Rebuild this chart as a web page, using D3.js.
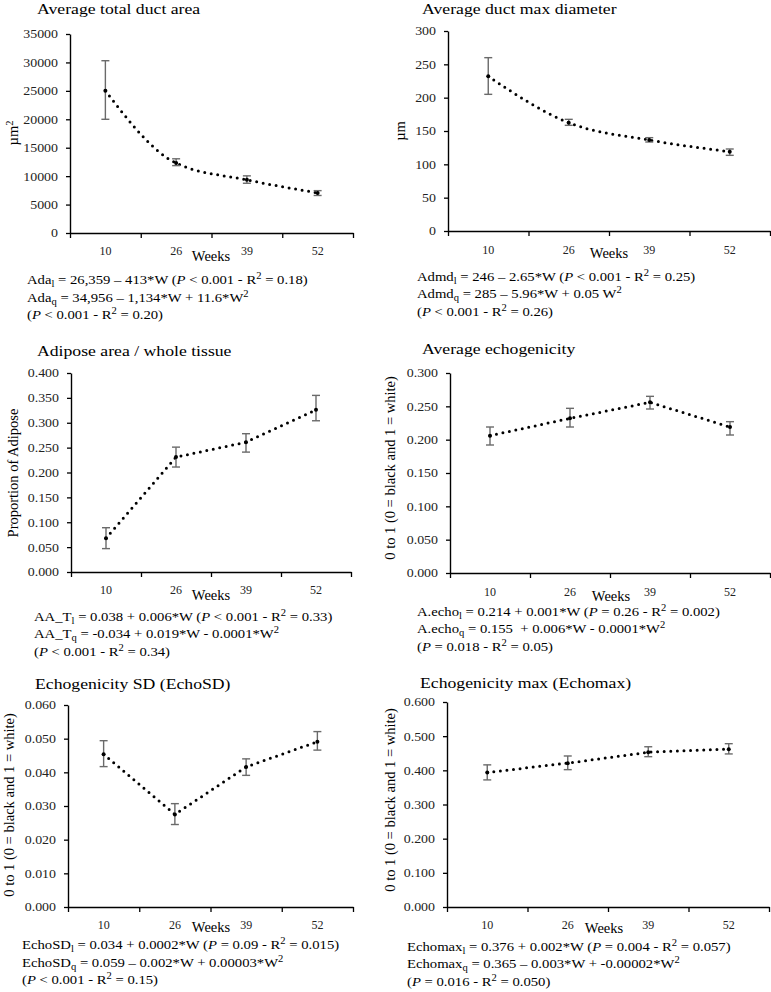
<!DOCTYPE html>
<html><head><meta charset="utf-8">
<script src="https://cdn.jsdelivr.net/npm/d3@7/dist/d3.min.js"></script>
<style>
html,body{margin:0;padding:0;background:#fff;}
</style></head>
<body>
<svg id="chart" width="771" height="992" font-family="Liberation Serif"></svg>
<script>
// ---------- DATA ----------
const weeks = ["10", "26", "39", "52"];

const ductAreaMean = [25000, 12300, 9350, 7050];
const ductAreaLow  = [20000, 11850, 8750, 6600];
const ductAreaHigh = [30300, 13050, 10050, 7450];
const ductAreaTicks = [0, 5000, 10000, 15000, 20000, 25000, 30000, 35000];

const ductDiamMean = [232, 162.5, 136.5, 119];
const ductDiamLow  = [205, 158.5, 133.5, 113.5];
const ductDiamHigh = [260, 167.5, 140, 123];
const ductDiamTicks = [0, 50, 100, 150, 200, 250, 300];

const adiposeMean = [0.068, 0.231, 0.261, 0.326];
const adiposeLow  = [0.047, 0.211, 0.241, 0.304];
const adiposeHigh = [0.089, 0.251, 0.278, 0.355];
const adiposeTicks = [0, 0.05, 0.1, 0.15, 0.2, 0.25, 0.3, 0.35, 0.4];

const echoMean = [0.206, 0.232, 0.256, 0.219];
const echoLow  = [0.192, 0.219, 0.246, 0.207];
const echoHigh = [0.219, 0.247, 0.265, 0.227];
const echoTicks = [0, 0.05, 0.1, 0.15, 0.2, 0.25, 0.3];

const echoSDMean = [0.0454, 0.0275, 0.0416, 0.0491];
const echoSDLow  = [0.0417, 0.0245, 0.0391, 0.0466];
const echoSDHigh = [0.0494, 0.0307, 0.0440, 0.0521];
const echoSDTicks = [0, 0.01, 0.02, 0.03, 0.04, 0.05, 0.06];

const echoMaxMean = [0.394, 0.421, 0.453, 0.462];
const echoMaxLow  = [0.372, 0.402, 0.440, 0.448];
const echoMaxHigh = [0.416, 0.442, 0.469, 0.478];
const echoMaxTicks = [0, 0.1, 0.2, 0.3, 0.4, 0.5, 0.6];

const titles = ["Average total duct area", "Average duct max diameter",
  "Adipose area / whole tissue", "Average echogenicity",
  "Echogenicity SD (EchoSD)", "Echogenicity max (Echomax)"];
const yLabels = ["µm{sup:2}", "µm", "Proportion of Adipose",
  "0 to 1 (0 = black and 1 = white)", "0 to 1 (0 = black and 1 = white)",
  "0 to 1 (0 = black and 1 = white)"];
const xLabel = "Weeks";
const equations = [
  ["Ada{sub:l} = 26,359 – 413*W ({i:P} < 0.001 - R{sup:2} = 0.18)",
   "Ada{sub:q} = 34,956 – 1,134*W + 11.6*W{sup:2}",
   "({i:P} < 0.001 - R{sup:2} = 0.20)"],
  ["Admd{sub:l} = 246 – 2.65*W ({i:P} < 0.001 - R{sup:2} = 0.25)",
   "Admd{sub:q} = 285 – 5.96*W + 0.05 W{sup:2}",
   "({i:P} < 0.001 - R{sup:2} = 0.26)"],
  ["AA_T{sub:l} = 0.038 + 0.006*W ({i:P} < 0.001 - R{sup:2} = 0.33)",
   "AA_T{sub:q} = -0.034 + 0.019*W - 0.0001*W{sup:2}",
   "({i:P} < 0.001 - R{sup:2} = 0.34)"],
  ["A.echo{sub:l} = 0.214 + 0.001*W ({i:P} = 0.26 - R{sup:2} = 0.002)",
   "A.echo{sub:q} = 0.155  + 0.006*W - 0.0001*W{sup:2}",
   "({i:P} = 0.018 - R{sup:2} = 0.05)"],
  ["EchoSD{sub:l} = 0.034 + 0.0002*W ({i:P} = 0.09 - R{sup:2} = 0.015)",
   "EchoSD{sub:q} = 0.059 – 0.002*W + 0.00003*W{sup:2}",
   "({i:P} < 0.001 - R{sup:2} = 0.15)"],
  ["Echomax{sub:l} = 0.376 + 0.002*W ({i:P} = 0.004 - R{sup:2} = 0.057)",
   "Echomax{sub:q} = 0.365 – 0.003*W + -0.00002*W{sup:2}",
   "({i:P} = 0.016 - R{sup:2} = 0.050)"]
];

// ---------- LAYOUT ----------
const FONT = "Liberation Serif";
const panels = [
  {mean: ductAreaMean, low: ductAreaLow, high: ductAreaHigh, ticks: ductAreaTicks, fmt: "d", smooth: true,
   x0: 70, x1: 353, yTop: 34, yBot: 233, titleX: 37, titleY: 14, ylx: 13, yly: 133,
   xtY: 255, wx: 211, wy: 261, eqX: 27, eqY: [284, 302, 319]},
  {mean: ductDiamMean, low: ductDiamLow, high: ductDiamHigh, ticks: ductDiamTicks, fmt: "d", smooth: true,
   x0: 448, x1: 770, yTop: 31, yBot: 231, titleX: 422, titleY: 13.5, ylx: 400, yly: 131,
   xtY: 254, wx: 609, wy: 258, eqX: 417, eqY: [281, 298, 316]},
  {mean: adiposeMean, low: adiposeLow, high: adiposeHigh, ticks: adiposeTicks, fmt: ".3f", smooth: false,
   x0: 71, x1: 351, yTop: 373, yBot: 572, titleX: 37, titleY: 355.5, ylx: 13, yly: 473,
   xtY: 594, wx: 211, wy: 600, eqX: 34, eqY: [621, 638, 656]},
  {mean: echoMean, low: echoLow, high: echoHigh, ticks: echoTicks, fmt: ".3f", smooth: false,
   x0: 450, x1: 770, yTop: 373, yBot: 573, titleX: 422, titleY: 354, ylx: 390, yly: 468,
   xtY: 596, wx: 611, wy: 601, eqX: 417, eqY: [616, 633, 651]},
  {mean: echoSDMean, low: echoSDLow, high: echoSDHigh, ticks: echoSDTicks, fmt: ".3f", smooth: false,
   x0: 68, x1: 353, yTop: 705, yBot: 907, titleX: 35, titleY: 689, ylx: 9, yly: 805,
   xtY: 929, wx: 211, wy: 932, eqX: 22, eqY: [949, 967, 984]},
  {mean: echoMaxMean, low: echoMaxLow, high: echoMaxHigh, ticks: echoMaxTicks, fmt: ".3f", smooth: false,
   x0: 447, x1: 769, yTop: 702, yBot: 907, titleX: 420, titleY: 688, ylx: 390, yly: 800,
   xtY: 929, wx: 604, wy: 933, eqX: 407, eqY: [951, 968, 986]}
];

const svg = d3.select("#chart");

function rich(sel, str) {
  const parts = str.split(/(\{(?:i|sub|sup):[^}]*\})/).filter(s => s.length);
  let shift = 0;
  parts.forEach(p => {
    const m = p.match(/^\{(i|sub|sup):([^}]*)\}$/);
    const t = sel.append("tspan").attr("font-family", FONT);
    let target = 0;
    if (m) {
      t.text(m[2]);
      if (m[1] === "i") t.attr("font-style", "italic");
      if (m[1] === "sub") { target = 2.5; t.attr("font-size", "0.72em"); }
      if (m[1] === "sup") { target = -5; t.attr("font-size", "0.72em"); }
    } else t.text(p);
    if (target !== shift) { t.attr("dy", target - shift); shift = target; }
  });
}

function txt(g, x, y, str, size, sx, anchor, color) {
  const t = g.append("text")
    .attr("transform", `translate(${x},${y}) scale(${sx},1)`)
    .attr("font-family", FONT)
    .attr("font-size", size)
    .attr("xml:space", "preserve")
    .style("white-space", "pre")
    .attr("text-anchor", anchor || "start")
    .attr("fill", color || "#000");
  rich(t, str);
  return t;
}

panels.forEach((p, i) => {
  const g = svg.append("g");
  const yMax = p.ticks[p.ticks.length - 1];
  const y = d3.scaleLinear().domain([0, yMax]).range([p.yBot, p.yTop]);
  const xb = d3.scaleBand().domain(weeks).range([p.x0, p.x1]);
  const xl = d3.scaleLinear().domain([0, weeks.length]).range([p.x0, p.x1]);
  const cx = w => xb(w) + xb.bandwidth() / 2;
  const fmt = d3.format(p.fmt);

  // y axis
  const ya = g.append("g").attr("transform", `translate(${p.x0},0)`)
    .call(d3.axisLeft(y).tickValues(p.ticks).tickSize(4).tickSizeOuter(0).tickFormat(fmt));
  ya.attr("font-family", FONT);
  ya.select(".domain").attr("stroke", "#000").attr("stroke-width", 1.4);
  ya.selectAll(".tick line").attr("stroke", "#000").attr("stroke-width", 1.3);
  ya.selectAll(".tick text")
    .attr("x", 0).attr("dy", "0.33em")
    .attr("transform", "translate(-12,0) scale(1.16,1)")
    .attr("font-size", 12).attr("fill", "#222")
    .attr("font-family", FONT);

  // x axis (ticks between categories)
  const xa = g.append("g").attr("transform", `translate(0,${p.yBot})`)
    .call(d3.axisBottom(xl).tickValues(d3.range(weeks.length + 1)).tickSize(5).tickSizeOuter(0).tickFormat(""));
  xa.select(".domain").attr("stroke", "#000").attr("stroke-width", 1.4);
  xa.selectAll(".tick line").attr("stroke", "#000").attr("stroke-width", 1.3);

  weeks.forEach(w => txt(g, cx(w), p.xtY, w, 12, 1, "middle", "#222"));
  txt(g, p.wx, p.wy, xLabel, 14.5, 1, "middle");

  // title
  txt(g, p.titleX, p.titleY, titles[i], 15, 1.18, "start");

  // y label
  const yl = g.append("text")
    .attr("transform", `translate(${p.ylx},${p.yly}) rotate(-90)`)
    .attr("font-family", FONT)
    .attr("font-size", 14.5).attr("text-anchor", "middle").attr("dy", "0.35em");
  rich(yl, yLabels[i]);

  // dotted connecting line
  const pts = weeks.map((w, k) => [cx(w), y(p.mean[k])]);
  const line = d3.line().curve(p.smooth ? d3.curveMonotoneX : d3.curveLinear);
  g.append("path").attr("d", line(pts))
    .attr("fill", "none").attr("stroke", "#000").attr("stroke-width", 3)
    .attr("stroke-linecap", "round").attr("stroke-dasharray", "0 6.6");

  // error bars
  const eb = g.append("g").attr("stroke", "#6a6a6a").attr("stroke-width", 1.4);
  weeks.forEach((w, k) => {
    const xx = cx(w);
    eb.append("line").attr("x1", xx).attr("x2", xx).attr("y1", y(p.low[k])).attr("y2", y(p.high[k]));
    eb.append("line").attr("x1", xx - 4).attr("x2", xx + 4).attr("y1", y(p.low[k])).attr("y2", y(p.low[k]));
    eb.append("line").attr("x1", xx - 4).attr("x2", xx + 4).attr("y1", y(p.high[k])).attr("y2", y(p.high[k]));
  });

  // mean markers
  g.selectAll("circle.m").data(weeks).join("circle").attr("class", "m")
    .attr("cx", w => cx(w)).attr("cy", (w, k) => y(p.mean[k])).attr("r", 2).attr("fill", "#000");

  // equations
  equations[i].forEach((e, k) => txt(g, p.eqX, p.eqY[k], e, 13, 1.13, "start"));
});
</script>
</body></html>
